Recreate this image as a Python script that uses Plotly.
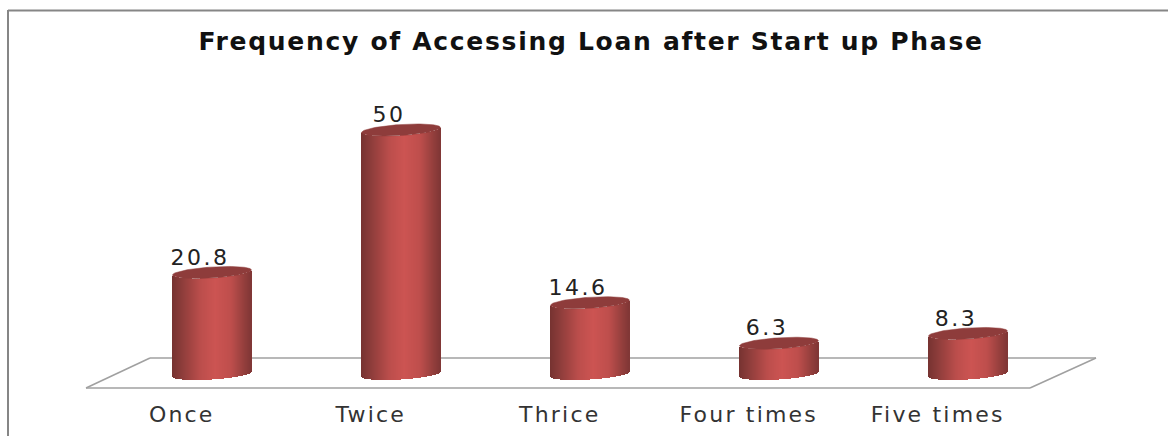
import numpy as np
import plotly.graph_objects as go

# Chart content
title_text = "Frequency of Accessing Loan after Start up Phase"
categories = ["Once", "Twice", "Thrice", "Four times", "Five times"]
values = [20.8, 50, 14.6, 6.3, 8.3]

# Canvas and axis calibration, in pixels
W, H = 1168, 436
PLOT_BOTTOM = 398
CAT_X0, CAT_STEP = 212, 189   # pixel centre of the first category and spacing
ZERO_Y, UNIT_Y = 374, 4.88    # pixel height of value 0 and pixels per unit

x_range = [-CAT_X0 / CAT_STEP, (W - CAT_X0) / CAT_STEP]
y_range = [(ZERO_Y - PLOT_BOTTOM) / UNIT_Y, ZERO_Y / UNIT_Y]

# Cylinder shape, in axis units
half_w = 39.5 / CAT_STEP
ell_b = 5.5 / UNIT_Y
ell_tilt = 2.5 / UNIT_Y
n_strips = 80

# Horizontal shading across a cylinder: position, RGB
shade_pos = [0.0, 0.12, 0.35, 0.55, 0.75, 0.92, 1.0]
shade_rgb = [(118, 50, 49), (140, 60, 58), (186, 77, 75), (204, 84, 82),
             (190, 78, 76), (146, 62, 60), (128, 54, 53)]
cap_colour = "#8E3C3B"


def shade(t):
    chan = [np.interp(t, shade_pos, [c[k] for c in shade_rgb]) for k in range(3)]
    return "rgb({:.0f},{:.0f},{:.0f})".format(*chan)


def spaced(text, px):
    return f'<span style="letter-spacing:{px}px">{text}</span>'


# Each cylinder body is a run of narrow bars whose height is the value and
# whose base follows the front curve of the lower ellipse.
offsets = (np.arange(n_strips) + 0.5) / n_strips * 2 - 1
bar_x, bar_y, bar_base, bar_col = [], [], [], []
for i, v in enumerate(values):
    for u in offsets:
        bar_x.append(i + u * half_w)
        bar_y.append(v)
        bar_base.append(-ell_b * np.sqrt(1 - u * u) + ell_tilt * u)
        bar_col.append(shade((u + 1) / 2))

fig = go.Figure()
fig.add_trace(go.Bar(
    x=bar_x, y=bar_y, base=bar_base,
    width=1.25 * 2 * half_w / n_strips,
    marker=dict(color=bar_col, line=dict(width=0)),
    hoverinfo="skip", showlegend=False,
))

# Top face of each cylinder
t = np.linspace(0, 2 * np.pi, 90)
for i, v in enumerate(values):
    fig.add_trace(go.Scatter(
        x=i + half_w * np.cos(t),
        y=v + ell_b * np.sin(t) + ell_tilt * np.cos(t),
        mode="lines", fill="toself", fillcolor=cap_colour,
        line=dict(color=cap_colour, width=0.5),
        hoverinfo="skip", showlegend=False,
    ))

# Value labels
fig.add_trace(go.Scatter(
    x=[i - 0.063 for i in range(len(values))],
    y=[v + 2.75 for v in values],
    mode="text",
    text=[spaced(str(v), 2.5) for v in values],
    textposition="middle center",
    textfont=dict(family="DejaVu Sans", size=22, color="#222222"),
    hoverinfo="skip", showlegend=False,
))


def px(x):
    return x / W


def py(y):
    return 1 - y / PLOT_BOTTOM


# Chart frame and the 3D floor
frame_colour = "#868686"
floor_colour = "#A0A0A0"
shapes = [
    dict(type="line", xref="paper", yref="paper", x0=px(8), x1=px(8), y0=py(10), y1=py(H),
         line=dict(color=frame_colour, width=2)),
    dict(type="line", xref="paper", yref="paper", x0=px(8), x1=1, y0=py(10.5), y1=py(10.5),
         line=dict(color=frame_colour, width=2)),
]
floor = [(86, 388), (150, 358), (1096, 358), (1030, 388), (86, 388)]
for (xa, ya), (xb, yb) in zip(floor[:-1], floor[1:]):
    shapes.append(dict(type="line", xref="paper", yref="paper", layer="below",
                       x0=px(xa), x1=px(xb), y0=py(ya), y1=py(yb),
                       line=dict(color=floor_colour, width=1.5)))

fig.update_layout(
    width=W, height=H,
    margin=dict(l=0, r=0, t=0, b=H - PLOT_BOTTOM, pad=0),
    paper_bgcolor="white", plot_bgcolor="white",
    bargap=0, barmode="overlay",
    shapes=shapes,
    title=dict(
        text=spaced(title_text, 1.7),
        x=591 / W, xref="container", xanchor="center",
        y=1 - 41 / H, yref="container", yanchor="middle",
        font=dict(family="DejaVu Sans", size=25, color="#111111", weight=700),
    ),
    xaxis=dict(
        range=x_range, showgrid=False, zeroline=False, showline=False,
        tickmode="array",
        tickvals=[i - 0.16 for i in range(len(categories))],
        ticktext=[spaced(c, 2.2) for c in categories],
        ticks="", ticklabelstandoff=1,
        tickfont=dict(family="DejaVu Sans", size=22, color="#333333"),
    ),
    yaxis=dict(range=y_range, visible=False),
)

fig.write_html("out.html")
